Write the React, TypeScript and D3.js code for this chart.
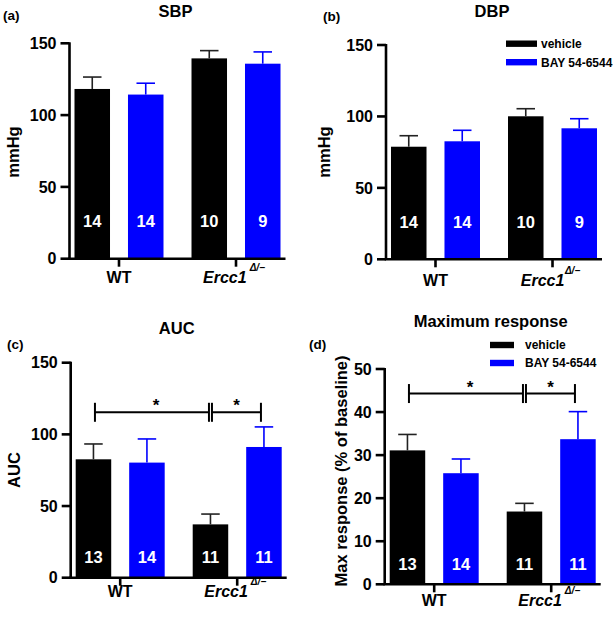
import React from "react";
import * as d3 from "d3";

const groups = ["WT", "Ercc1"];
const seriesNames = ["vehicle", "BAY 54-6544"];
const seriesColors = ["#000000", "#0000ff"];

const sbpVehicle = [118.2, 139.5];
const sbpVehicleSem = [8.3, 5.4];
const sbpBay = [114.3, 135.8];
const sbpBaySem = [7.9, 8.2];

const dbpVehicle = [78.8, 100.1];
const dbpVehicleSem = [7.7, 5.3];
const dbpBay = [82.6, 91.7];
const dbpBaySem = [7.7, 6.7];

const aucVehicle = [82.6, 37.2];
const aucVehicleSem = [10.7, 7.2];
const aucBay = [80.3, 91.2];
const aucBaySem = [16.5, 14.0];

const maxVehicle = [31.1, 16.9];
const maxVehicleSem = [3.7, 1.9];
const maxBay = [25.8, 33.7];
const maxBaySem = [3.3, 6.4];

const nBpVehicle = [14, 10];
const nBpBay = [14, 9];
const nVasVehicle = [13, 11];
const nVasBay = [14, 11];

const ticksPressure = [0, 50, 100, 150];
const ticksAuc = [0, 50, 100, 150];
const ticksMax = [0, 10, 20, 30, 40, 50];

const FONT = "'Liberation Sans', Arial, Helvetica, sans-serif";

type PanelDef = {
  letter: string;
  title: string;
  yLabel: string;
  ticks: number[];
  yMax: number;
  vehicle: number[];
  vehicleSem: number[];
  bay: number[];
  baySem: number[];
  nVehicle: number[];
  nBay: number[];
  left: number;
  top: number;
  bottom: number;
  nOffset: number;
  xLabelOffset: number;
  supDx: number;
  yLabelX: number;
  yLabelY: number;
  titleY: number;
  letterX: number;
  letterY: number;
  legend?: { x: number; w: number; y0: number; y1: number; tx: number };
  sigLevel?: number;
};

const panels: PanelDef[] = [
  {
    letter: "(a)", title: "SBP", yLabel: "mmHg", ticks: ticksPressure, yMax: 150,
    vehicle: sbpVehicle, vehicleSem: sbpVehicleSem, bay: sbpBay, baySem: sbpBaySem,
    nVehicle: nBpVehicle, nBay: nBpBay,
    left: 69.5, top: 43.3, bottom: 258.7, nOffset: 31.5, xLabelOffset: 24.5, supDx: 3,
    yLabelX: 18.5, yLabelY: 152, titleY: 17, letterX: 3, letterY: 19.5,
  },
  {
    letter: "(b)", title: "DBP", yLabel: "mmHg", ticks: ticksPressure, yMax: 150,
    vehicle: dbpVehicle, vehicleSem: dbpVehicleSem, bay: dbpBay, baySem: dbpBaySem,
    nVehicle: nBpVehicle, nBay: nBpBay,
    left: 386, top: 45, bottom: 259.3, nOffset: 31, xLabelOffset: 26.5, supDx: 0.5,
    yLabelX: 330, yLabelY: 152, titleY: 17, letterX: 323, letterY: 20.5,
    legend: { x: 506, w: 31, y0: 43.7, y1: 62.2, tx: 541 },
  },
  {
    letter: "(c)", title: "AUC", yLabel: "AUC", ticks: ticksAuc, yMax: 150,
    vehicle: aucVehicle, vehicleSem: aucVehicleSem, bay: aucBay, baySem: aucBaySem,
    nVehicle: nVasVehicle, nBay: nVasBay,
    left: 70.7, top: 362.7, bottom: 577.7, nOffset: 14.5, xLabelOffset: 19.5, supDx: 3,
    yLabelX: 19.5, yLabelY: 470, titleY: 334, letterX: 7, letterY: 348.5,
    sigLevel: 115.4,
  },
  {
    letter: "(d)", title: "Maximum response", yLabel: "Max response (% of baseline)", ticks: ticksMax, yMax: 50,
    vehicle: maxVehicle, vehicleSem: maxVehicleSem, bay: maxBay, baySem: maxBaySem,
    nVehicle: nVasVehicle, nBay: nVasBay,
    left: 384.7, top: 369, bottom: 584.3, nOffset: 14.5, xLabelOffset: 22, supDx: 3,
    yLabelX: 347, yLabelY: 471, titleY: 327, letterX: 309, letterY: 348.5,
    legend: { x: 490, w: 24, y0: 345, y1: 363, tx: 525 },
    sigLevel: 44.3,
  },
];

const PLOT_W = 216;

function Panel({ p }: { p: PanelDef }) {
  const y = d3.scaleLinear().domain([0, p.yMax]).range([p.bottom, p.top]);
  const x0 = d3.scalePoint<string>().domain(groups).range([p.left, p.left + PLOT_W]).padding(0.423);
  const x1 = d3.scaleBand<string>().domain(seriesNames).range([-44.5, 44.5]).paddingInner(0.336);
  const bw = x1.bandwidth();
  const seriesData = [
    { name: seriesNames[0], vals: p.vehicle, sem: p.vehicleSem, n: p.nVehicle, color: seriesColors[0] },
    { name: seriesNames[1], vals: p.bay, sem: p.baySem, n: p.nBay, color: seriesColors[1] },
  ];
  const barCenter = (g: number, s: number) => (x0(groups[g]) as number) + (x1(seriesNames[s]) as number) + bw / 2;
  const capW = 18.5;

  const sig = p.sigLevel !== undefined ? (() => {
    const ly = y(p.sigLevel as number);
    const a = barCenter(0, 0) + 1.5;
    const b = barCenter(1, 0) - 1.5;
    const c = barCenter(1, 0) + 1.5;
    const d = barCenter(1, 1) - 3;
    const h = 9.5;
    return (
      <g stroke="#000" strokeWidth={2}>
        <line x1={a} x2={b} y1={ly} y2={ly} />
        <line x1={c} x2={d} y1={ly} y2={ly} />
        <line x1={a} x2={a} y1={ly - h} y2={ly + h} />
        <line x1={b} x2={b} y1={ly - h} y2={ly + h} />
        <line x1={c} x2={c} y1={ly - h} y2={ly + h} />
        <line x1={d} x2={d} y1={ly - h} y2={ly + h} />
        <text x={(a + b) / 2 + 4} y={ly - 1} textAnchor="middle" fontSize={17} fontWeight="bold" fill="#000" stroke="none" fontFamily={FONT}>*</text>
        <text x={(c + d) / 2} y={ly - 1} textAnchor="middle" fontSize={17} fontWeight="bold" fill="#000" stroke="none" fontFamily={FONT}>*</text>
      </g>
    );
  })() : null;

  return (
    <g fontFamily={FONT}>
      <text x={p.letterX} y={p.letterY} fontSize={13.5} fontWeight="bold">{p.letter}</text>
      <text x={p.left + 106} y={p.titleY} textAnchor="middle" fontSize={16.5} fontWeight="bold">{p.title}</text>
      <text transform={`translate(${p.yLabelX},${p.yLabelY}) rotate(-90)`} textAnchor="middle" fontSize={16.5} fontWeight="bold">{p.yLabel}</text>

      {seriesData.map((s, si) =>
        s.vals.map((v, gi) => {
          const cx = barCenter(gi, si);
          const top = y(v);
          const errTop = y(v + s.sem[gi]);
          return (
            <g key={`${si}-${gi}`}>
              <rect x={cx - bw / 2} y={top} width={bw} height={p.bottom - top} fill={s.color} />
              <line x1={cx} x2={cx} y1={top} y2={errTop} stroke={si === 0 ? "#222" : s.color} strokeWidth={1.6} />
              <line x1={cx - capW / 2} x2={cx + capW / 2} y1={errTop} y2={errTop} stroke={si === 0 ? "#222" : s.color} strokeWidth={1.6} />
              <text x={cx} y={p.bottom - p.nOffset} textAnchor="middle" fontSize={16.5} fontWeight="bold" fill="#fff">{s.n[gi]}</text>
            </g>
          );
        })
      )}

      {/* y axis */}
      <line x1={p.left} x2={p.left} y1={p.top - 1} y2={p.bottom} stroke="#000" strokeWidth={2.6} />
      {p.ticks.map((t) => (
        <g key={t}>
          <line x1={p.left - 9} x2={p.left} y1={y(t)} y2={y(t)} stroke="#000" strokeWidth={2.6} />
          <text x={p.left - 13} y={y(t)} dy="0.36em" textAnchor="end" fontSize={16} fontWeight="bold">{t}</text>
        </g>
      ))}
      {/* x axis */}
      <line x1={p.left - 1.3} x2={p.left + PLOT_W} y1={p.bottom} y2={p.bottom} stroke="#000" strokeWidth={2.6} />
      {groups.map((g) => (
        <line key={g} x1={x0(g)} x2={x0(g)} y1={p.bottom} y2={p.bottom + 8} stroke="#000" strokeWidth={2.6} />
      ))}
      <text x={x0(groups[0])} y={p.bottom + p.xLabelOffset} textAnchor="middle" fontSize={16} fontWeight="bold">WT</text>
      <text x={(x0(groups[1]) as number) - 2} y={p.bottom + p.xLabelOffset} textAnchor="middle" fontSize={16} fontWeight="bold" fontStyle="italic">
        {groups[1]}
        <tspan dx={p.supDx} dy={-12} fontSize={10}>Δ/−</tspan>
      </text>

      {p.legend ? (
        <g>
          {seriesNames.map((name, i) => {
            const ly = i === 0 ? p.legend!.y0 : p.legend!.y1;
            return (
              <g key={name}>
                <rect x={p.legend!.x} y={ly - 3.2} width={p.legend!.w} height={6.4} fill={seriesColors[i]} />
                <text x={p.legend!.tx} y={ly} dy="0.36em" fontSize={12} fontWeight="bold">{name}</text>
              </g>
            );
          })}
        </g>
      ) : null}
      {sig}
    </g>
  );
}

export default function App() {
  return (
    <svg width={614} height={617} style={{ position: "absolute", left: 0, top: 0, background: "#fff" }}>
      <rect width={614} height={617} fill="#fff" />
      {panels.map((p) => (
        <Panel key={p.letter} p={p} />
      ))}
    </svg>
  );
}
